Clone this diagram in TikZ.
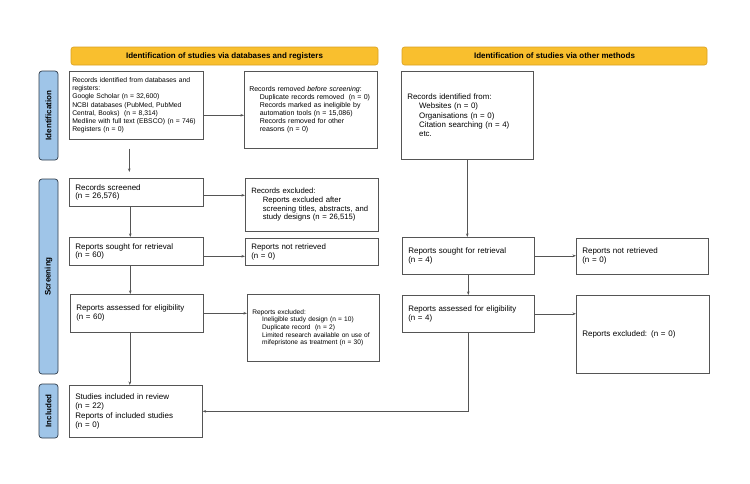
\documentclass[tikz,border=0pt]{standalone}
\usepackage{fontspec}
\setmainfont{Liberation Sans}
\usetikzlibrary{arrows.meta}

\definecolor{hdrfill}{HTML}{F9BF2E}
\definecolor{hdrline}{HTML}{D9A021}
\definecolor{tabfill}{HTML}{9FC5E8}
\definecolor{tabline}{HTML}{2E3B4A}
\definecolor{boxline}{HTML}{555555}

\newcommand{\ind}{\hspace*{1.5em}}

\tikzset{
  box/.style={draw=boxline, line width=0.6pt, fill=white, anchor=north west,
    align=left, inner xsep=6pt, inner ysep=2pt},
  fs/.style 2 args={font=\fontsize{#1}{#2}\selectfont},
  header/.style={draw=hdrline, fill=hdrfill, line width=0.6pt, rounded corners=2.5pt,
    minimum height=18pt, inner sep=0pt, font=\fontsize{8}{9}\selectfont\bfseries},
  phase/.style={draw=tabline, fill=tabfill, line width=0.7pt, rounded corners=3pt,
    rotate=90, minimum height=19pt, inner sep=0pt,
    font=\fontsize{8}{9}\selectfont\bfseries},
  conn/.style={color=boxline, line width=0.6pt}
}

\begin{document}
\begin{tikzpicture}[x=1pt,y=-1pt,>={Stealth[length=3.5pt,width=2.6pt]}]
\useasboundingbox (0,0) rectangle (750,483);

% headers
\node[header, minimum width=307pt] (hdrDb) at (224.5,56) {Identification of studies via databases and registers};
\node[header, minimum width=305pt] (hdrOther) at (554.5,56) {Identification of studies via other methods};

% phase tabs
\node[phase, minimum width=89pt]  (tabIdent)  at (48.5,115.5) {Identification};
\node[phase, minimum width=195pt] (tabScreen) at (48.5,276.5) {Screening};
\node[phase, minimum width=54pt]  (tabIncl)   at (48.5,411)   {Included};

% identification
\node[box, fs={6.8}{8.2}, inner xsep=3pt, text width=128pt, minimum height=68pt] (idDb) at (69,71)
  {Records identified from databases and\\ registers:\\ Google Scholar (n = 32,600)\\
   NCBI databases (PubMed, PubMed\\ Central, Books)\ \ (n = 8,314)\\
   Medline with full text (EBSCO) (n = 746)\\ Registers (n = 0)};
\node[box, fs={7}{8.1}, inner xsep=5pt, text width=123pt, minimum height=77pt] (removed) at (244,71)
  {Records removed \textit{before screening}:\\ \ind Duplicate records removed\ \ (n = 0)\\
   \ind Records marked as ineligible by\\ \ind automation tools (n = 15,086)\\
   \ind Records removed for other\\ \ind reasons (n = 0)};
\node[box, fs={7.9}{9.4}, text width=120pt, minimum height=88pt] (idOther) at (401,71)
  {Records identified from:\\ \ind Websites (n = 0)\\ \ind Organisations (n = 0)\\
   \ind Citation searching (n = 4)\\ \ind etc.};

% screening
\node[box, fs={8}{8.6}, text width=122pt, minimum height=28pt] (screened) at (69,178)
  {Records screened\\ (n = 26,576)};
\node[box, fs={7.7}{8.6}, text width=121pt, minimum height=53pt] (excluded) at (245,178)
  {Records excluded:\\ \ind Reports excluded after\\ \ind screening titles, abstracts, and\\
   \ind study designs (n = 26,515)};
\node[box, fs={8}{8.6}, text width=122pt, minimum height=28pt] (soughtDb) at (69,237)
  {Reports sought for retrieval\\ (n = 60)};
\node[box, fs={7.9}{8.6}, text width=121pt, minimum height=27pt] (notretDb) at (245,238)
  {Reports not retrieved\\ (n = 0)};
\node[box, fs={8}{8.8}, text width=120pt, minimum height=37pt] (soughtOther) at (402,237)
  {Reports sought for retrieval\\ (n = 4)};
\node[box, fs={8}{8.8}, text width=120pt, minimum height=36pt] (notretOther) at (576,238)
  {Reports not retrieved\\ (n = 0)};
\node[box, fs={7.9}{8.8}, text width=121pt, minimum height=38pt] (assessDb) at (70,294)
  {Reports assessed for eligibility\\ (n = 60)};
\node[box, fs={6.6}{7.7}, inner xsep=5pt, text width=122pt, minimum height=67pt] (reportsExDb) at (247,294)
  {Reports excluded:\\ \ind Ineligible study design (n = 10)\\ \ind Duplicate record\ \ (n = 2)\\
   \ind Limited research available on use of\\ \ind mifepristone as treatment (n = 30)};
\node[box, fs={7.9}{8.8}, text width=120pt, minimum height=37pt] (assessOther) at (402,295)
  {Reports assessed for eligibility\\ (n = 4)};
\node[box, fs={8}{9}, text width=121pt, minimum height=78pt] (reportsExOther) at (576,295)
  {Reports excluded: (n = 0)};

% included
\node[box, fs={8}{9.4}, text width=121pt, minimum height=52pt] (included) at (69,385)
  {Studies included in review\\ (n = 22)\\ Reports of included studies\\ (n = 0)};

% connectors
\path[conn,->] ([yshift=-10pt]idDb.east) edge ([yshift=-10pt]idDb.east -| removed.west)
               ([xshift=-7pt]idDb.south) edge[shorten <=9pt, shorten >=6pt] ([xshift=-7pt]idDb.south |- screened.north)
               ([yshift=-3pt]screened.east) edge ([yshift=-3pt]screened.east -| excluded.west)
               ([xshift=-6pt]screened.south) edge ([xshift=-6pt]screened.south |- soughtDb.north)
               ([yshift=-5pt]soughtDb.east) edge ([yshift=-5pt]soughtDb.east -| notretDb.west)
               ([xshift=-6pt]soughtDb.south) edge ([xshift=-6pt]soughtDb.south |- assessDb.north)
               (assessDb.east) edge (assessDb.east -| reportsExDb.west)
               ([xshift=-7pt]assessDb.south) edge ([xshift=-7pt]assessDb.south |- included.north)
               (idOther.south) edge (idOther.south |- soughtOther.north)
               (soughtOther.east) edge (soughtOther.east -| notretOther.west)
               (soughtOther.south) edge (soughtOther.south |- assessOther.north)
               (assessOther.east) edge (assessOther.east -| reportsExOther.west);
\draw[conn,->] (assessOther.south) |- (included.east);
\end{tikzpicture}
\end{document}
